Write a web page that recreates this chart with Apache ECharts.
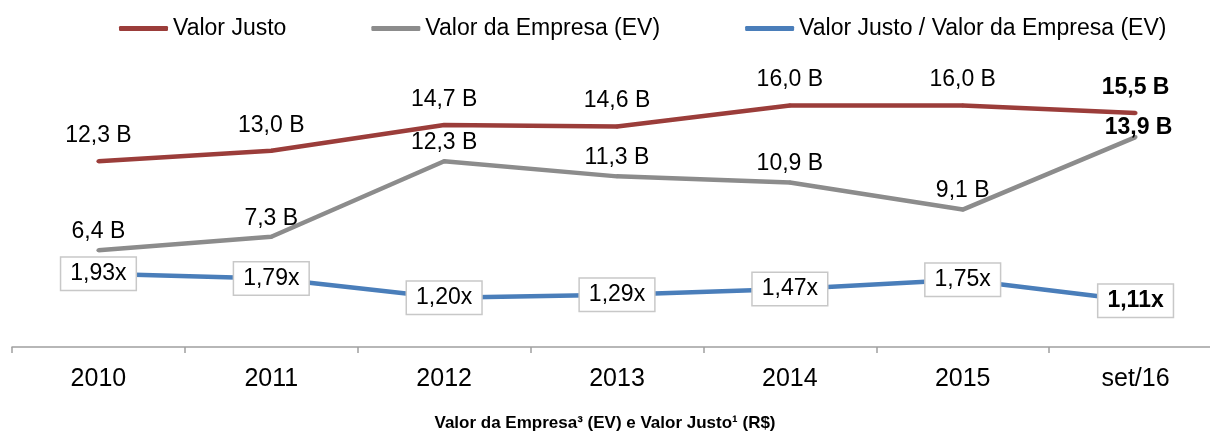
<!DOCTYPE html>
<html>
<head>
<meta charset="utf-8">
<style>
  html, body { margin: 0; padding: 0; background: #fff; }
  #chart { width: 1210px; height: 433px; }
</style>
<script src="https://cdn.jsdelivr.net/npm/echarts@6/dist/echarts.min.js"></script>
</head>
<body>
<div id="chart"></div>
<script>
// categories and values
var categories = ['2010', '2011', '2012', '2013', '2014', '2015', 'set/16'];
var valorJusto = [12.3, 13.0, 14.7, 14.6, 16.0, 16.0, 15.5];
var valorEmpresa = [6.4, 7.3, 12.3, 11.3, 10.9, 9.1, 13.9];
var razao = [1.93, 1.79, 1.20, 1.29, 1.47, 1.75, 1.11];

var FONT = 'Liberation Sans, Arial, sans-serif';

function fmtB(v) { return v.toFixed(1).replace('.', ',') + ' B' }
function fmtX(v) { return v.toFixed(2).replace('.', ',') + 'x' }

// last point of each series is bold
function withBoldLast(arr, extra) {
  return arr.map(function (v, i) {
    if (i !== arr.length - 1) return v
    return { value: v, label: Object.assign({ fontWeight: 'bold' }, extra || {}) }
  })
}

var chart = echarts.init(document.getElementById('chart'))
chart.setOption({
  animation: false,
  textStyle: { fontFamily: FONT },
  title: {
    text: 'Valor da Empresa³ (EV) e Valor Justo¹ (R$)',
    left: 'center',
    top: 410,
    textStyle: { fontSize: 17, fontWeight: 'bold', color: '#000', fontFamily: FONT }
  },
  legend: {
    left: 114,
    top: 12,
    itemGap: 85,
    itemWidth: 49,
    itemHeight: 5,
    icon: 'roundRect',
    textStyle: { fontSize: 23, color: '#000', fontFamily: FONT },
    data: ['Valor Justo', 'Valor da Empresa (EV)', 'Valor Justo / Valor da Empresa (EV)']
  },
  grid: {
    left: 12,
    right: -12,   // last category runs past the right edge, as in the original
    top: 45,
    bottom: 86,
    outerBoundsMode: 'none',
    containLabel: false
  },
  xAxis: {
    type: 'category',
    data: categories,
    boundaryGap: true,
    axisLine: { lineStyle: { color: '#A0A0A0', width: 1.5 } },
    axisTick: { show: true, length: 6, lineStyle: { color: '#A0A0A0', width: 1.5 } },
    axisLabel: { fontSize: 25, color: '#000', margin: 20, fontFamily: FONT }
  },
  yAxis: [
    { type: 'value', min: 0, max: 20, show: false, splitLine: { show: false } },
    { type: 'value', min: -0.3, max: 8.9, show: false, splitLine: { show: false } }
  ],
  series: [
    {
      name: 'Valor Justo',
      type: 'line',
      data: withBoldLast(valorJusto),
      symbol: 'circle',
      symbolSize: 4,
      itemStyle: { color: '#9B3D3A' },
      lineStyle: { color: '#9B3D3A', width: 4.5 },
      label: {
        show: true,
        position: 'top',
        distance: 12,
        fontSize: 23,
        color: '#000',
        fontFamily: FONT,
        formatter: function (p) { return fmtB(p.value) }
      }
    },
    {
      name: 'Valor da Empresa (EV)',
      type: 'line',
      data: withBoldLast(valorEmpresa, { distance: -4, offset: [3, 0] }),
      symbol: 'circle',
      symbolSize: 4,
      itemStyle: { color: '#8C8C8C' },
      lineStyle: { color: '#8C8C8C', width: 4.5 },
      label: {
        show: true,
        position: 'top',
        distance: 5,
        fontSize: 23,
        color: '#000',
        fontFamily: FONT,
        formatter: function (p) { return fmtB(p.value) }
      }
    },
    {
      name: 'Valor Justo / Valor da Empresa (EV)',
      type: 'line',
      yAxisIndex: 1,
      data: withBoldLast(razao),
      symbol: 'circle',
      symbolSize: 4,
      itemStyle: { color: '#4A7EBA' },
      lineStyle: { color: '#4A7EBA', width: 4.5 },
      label: {
        show: true,
        position: 'inside',
        fontSize: 23,
        lineHeight: 22,
        color: '#000',
        fontFamily: FONT,
        backgroundColor: '#fff',
        borderColor: '#C8C8C8',
        borderWidth: 1.5,
        padding: [5, 9],
        formatter: function (p) { return fmtX(p.value) }
      }
    }
  ]
})
</script>
</body>
</html>
